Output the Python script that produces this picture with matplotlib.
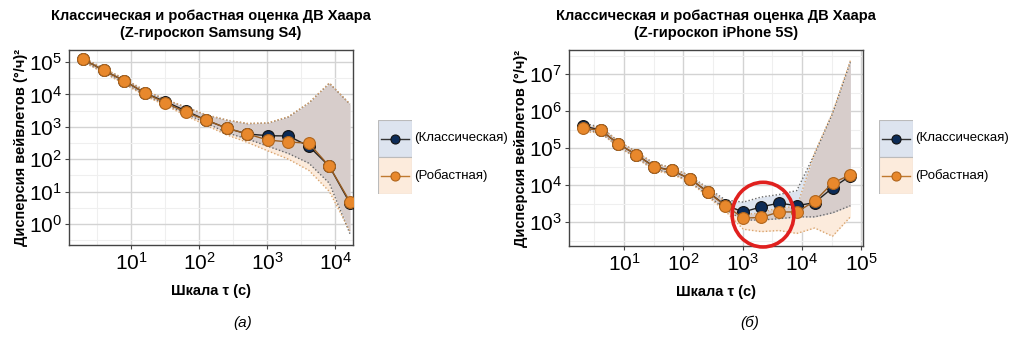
import numpy as np
import matplotlib
matplotlib.use('Agg')
import matplotlib.pyplot as plt
from matplotlib.patches import Ellipse, Rectangle
from matplotlib.lines import Line2D
from matplotlib.ticker import FixedLocator, LogFormatterSciNotation, NullFormatter

plt.rcParams['font.family'] = ['Liberation Sans', 'DejaVu Sans']
plt.rcParams['mathtext.fontset'] = 'custom'
plt.rcParams['mathtext.rm'] = 'Liberation Sans'
plt.rcParams['mathtext.it'] = 'Liberation Sans:italic'
plt.rcParams['mathtext.bf'] = 'Liberation Sans:bold'

## ---- данные: Samsung S4 (а) ---- ##
tau_a = [2, 4, 8, 16, 32, 64, 128, 256, 512, 1024, 2048, 4096, 8192, 16384]
klass_a = [1.2e5, 5.5e4, 2.6e4, 1.1e4, 6.0e3, 3.1e3, 1.6e3, 900, 600, 530, 520, 250, 60, 4.4]
klass_a_lo = [1.05e5, 4.8e4, 2.2e4, 9.5e3, 5.0e3, 2.5e3, 1.3e3, 650, 420, 250, 150, 75, 18, 0.5]
klass_a_hi = [1.35e5, 6.2e4, 3.0e4, 1.3e4, 7.0e3, 4.0e3, 2.3e3, 1.6e3, 1.25e3, 1.3e3, 2.0e3, 5.4e3, 2.2e4, 5.0e3]
rob_a = [1.2e5, 5.5e4, 2.6e4, 1.1e4, 5.5e3, 2.8e3, 1.6e3, 900, 600, 390, 340, 310, 60, 4.9]
rob_a_lo = [1.0e5, 4.6e4, 2.1e4, 9.0e3, 4.6e3, 2.2e3, 1.1e3, 560, 330, 180, 100, 45, 10, 0.6]
rob_a_hi = [1.36e5, 6.3e4, 3.05e4, 1.32e4, 7.1e3, 4.05e3, 2.35e3, 1.62e3, 1.27e3, 1.32e3, 2.05e3, 5.5e3, 2.25e4, 5.1e3]

## ---- данные: iPhone 5S (б) ---- ##
tau_b = [2, 4, 8, 16, 32, 64, 128, 256, 512, 1024, 2048, 4096, 8192, 16384, 32768, 65536]
klass_b = [4.0e5, 3.1e5, 1.3e5, 6.7e4, 3.2e4, 2.5e4, 1.5e4, 6.7e3, 2.9e3, 1.9e3, 2.6e3, 3.3e3, 2.8e3, 3.4e3, 8.5e3, 1.8e4]
klass_b_lo = [3.3e5, 2.6e5, 1.1e5, 5.6e4, 2.7e4, 2.1e4, 1.25e4, 5.4e3, 2.2e3, 1.15e3, 1.15e3, 1.25e3, 1.4e3, 1.4e3, 1.8e3, 2.8e3]
klass_b_hi = [4.8e5, 3.7e5, 1.55e5, 8.0e4, 3.9e4, 3.0e4, 1.8e4, 8.5e3, 4.0e3, 3.5e3, 4.8e3, 5.6e3, 7.2e3, 7.0e4, 8.5e5, 2.1e7]
rob_b = [3.4e5, 3.1e5, 1.3e5, 6.7e4, 3.1e4, 2.5e4, 1.5e4, 6.5e3, 2.8e3, 1.3e3, 1.35e3, 1.9e3, 1.9e3, 3.7e3, 1.15e4, 1.9e4]
rob_b_lo = [2.8e5, 2.6e5, 1.08e5, 5.5e4, 2.5e4, 2.0e4, 1.2e4, 5.0e3, 2.0e3, 650, 560, 600, 500, 700, 420, 1.4e3]
rob_b_hi = [4.1e5, 3.7e5, 1.55e5, 8.0e4, 3.8e4, 3.0e4, 1.8e4, 8.0e3, 3.6e3, 1.6e3, 1.8e3, 2.5e3, 2.6e3, 7.5e4, 9.0e5, 2.3e7]

blue_fill = '#dde4ef'
peach_fill = '#fcebdc'
gray_fill = '#d7cdcb'
navy = '#0c2b57'
orange = '#e8882c'


def panel(ax, t, k, klo, khi, r, rlo, rhi):
    t = np.array(t)
    klo, khi, rlo, rhi = map(np.array, (klo, khi, rlo, rhi))
    ax.fill_between(t, rlo, rhi, color=peach_fill, lw=0, zorder=1)
    ax.fill_between(t, klo, khi, color=blue_fill, lw=0, zorder=1.1)
    lo = np.maximum(klo, rlo)
    hi = np.minimum(khi, rhi)
    ax.fill_between(t, lo, hi, where=hi > lo, interpolate=True, color=gray_fill, lw=0, zorder=1.2)
    for y in (klo, khi):
        ax.plot(t, y, ls=(0, (1, 1.5)), color='#6a6a6a', lw=1.0, zorder=2)
    for y in (rlo, rhi):
        ax.plot(t, y, ls=(0, (1, 1.5)), color='#d9a46e', lw=1.0, zorder=2)
    ax.plot(t, k, '-o', color='#222222', lw=1.0, ms=8.5, mfc=navy, mec='#111111', mew=0.8, zorder=3)
    ax.plot(t, r, '-o', color='#9a5e22', lw=1.0, ms=8.5, mfc=orange, mec='#b0651c', mew=0.8, zorder=4)
    ax.set_xscale('log')
    ax.set_yscale('log')
    ax.grid(True, which='major', color='#d3d3d3', lw=1.0, zorder=0)
    ax.grid(True, which='minor', color='#efefef', lw=0.8, zorder=0)
    ax.set_axisbelow(True)
    for s in ax.spines.values():
        s.set_color('#444444')
        s.set_linewidth(1.0)
    ax.tick_params(which='major', length=3, color='#444444', labelsize=15, pad=2)
    ax.tick_params(which='minor', length=0)
    ax.xaxis.set_major_formatter(LogFormatterSciNotation())
    ax.yaxis.set_major_formatter(LogFormatterSciNotation())
    ax.xaxis.set_minor_formatter(NullFormatter())
    ax.yaxis.set_minor_formatter(NullFormatter())
    ax.set_xlabel(r'Шкала τ (с)', fontsize=10.5, fontweight='bold', labelpad=7)
    ax.set_ylabel(r'Дисперсия вейвлетов (°/ч)²', fontsize=10.5, fontweight='bold', labelpad=1)


def legend_box(fig, x0, y0):
    lax = fig.add_axes([x0 / 1012, 1 - (y0 + 74) / 340, 34 / 1012, 74 / 340])
    lax.set_xlim(0, 1)
    lax.set_ylim(0, 2)
    lax.axis('off')
    lax.add_patch(Rectangle((0, 1), 1, 1, facecolor=blue_fill, edgecolor='#bbbbbb', lw=0.8))
    lax.add_patch(Rectangle((0, 0), 1, 1, facecolor=peach_fill, edgecolor='#bbbbbb', lw=0.8))
    lax.add_line(Line2D([0.1, 0.9], [1.5, 1.5], color='#333333', lw=1.0))
    lax.plot([0.5], [1.5], 'o', ms=6.5, mfc=navy, mec='#111111', mew=0.8)
    lax.add_line(Line2D([0.1, 0.9], [0.5, 0.5], color='#c07a30', lw=1.0))
    lax.plot([0.5], [0.5], 'o', ms=6.5, mfc=orange, mec='#b0651c', mew=0.8)
    lax.text(1.06, 1.5, '(Классическая)', fontsize=9.5, va='center', ha='left')
    lax.text(1.06, 0.5, '(Робастная)', fontsize=9.5, va='center', ha='left')


fig = plt.figure(figsize=(10.12, 3.4), dpi=100)

ax1 = fig.add_axes([69 / 1012, 1 - 245 / 340, 284 / 1012, 195 / 340])
panel(ax1, tau_a, klass_a, klass_a_lo, klass_a_hi, rob_a, rob_a_lo, rob_a_hi)
ax1.set_xlim(10 ** 0.09, 10 ** 4.26)
ax1.set_ylim(10 ** -0.65, 10 ** 5.37)
ax1.xaxis.set_major_locator(FixedLocator([1e1, 1e2, 1e3, 1e4]))
ax1.yaxis.set_major_locator(FixedLocator([1e0, 1e1, 1e2, 1e3, 1e4, 1e5]))
ax1.xaxis.set_minor_locator(FixedLocator([10 ** (k + 0.5) for k in range(0, 5)]))
ax1.yaxis.set_minor_locator(FixedLocator([10 ** (k + 0.5) for k in range(-1, 6)]))
ax1.set_title('Классическая и робастная оценка ДВ Хаара\n(Z-гироскоп Samsung S4)',
              fontsize=10.5, fontweight='bold', pad=9, linespacing=1.3)

ax2 = fig.add_axes([569 / 1012, 1 - 246 / 340, 294 / 1012, 196 / 340])
panel(ax2, tau_b, klass_b, klass_b_lo, klass_b_hi, rob_b, rob_b_lo, rob_b_hi)
ax2.set_xlim(10 ** 0.07, 10 ** 5.03)
ax2.set_ylim(10 ** 2.36, 10 ** 7.65)
ax2.xaxis.set_major_locator(FixedLocator([1e1, 1e2, 1e3, 1e4, 1e5]))
ax2.yaxis.set_major_locator(FixedLocator([1e3, 1e4, 1e5, 1e6, 1e7]))
ax2.xaxis.set_minor_locator(FixedLocator([10 ** (k + 0.5) for k in range(0, 6)]))
ax2.yaxis.set_minor_locator(FixedLocator([10 ** (k + 0.5) for k in range(2, 8)]))
ax2.set_title('Классическая и робастная оценка ДВ Хаара\n(Z-гироскоп iPhone 5S)',
              fontsize=10.5, fontweight='bold', pad=9, linespacing=1.3)

# красный круг вокруг области расхождения
ax2.add_patch(Ellipse((0.66, 0.16), 0.21, 0.33, transform=ax2.transAxes, fill=False,
                      edgecolor='#e0201e', lw=2.6, clip_on=False, zorder=6))

legend_box(fig, 378, 120)
legend_box(fig, 879, 120)

fig.text(243 / 1012, 1 - 323 / 340, '(а)', fontsize=11, style='italic', ha='center', va='center')
fig.text(750 / 1012, 1 - 323 / 340, '(б)', fontsize=11, style='italic', ha='center', va='center')

fig.savefig('out.png', dpi=100, facecolor='white')
